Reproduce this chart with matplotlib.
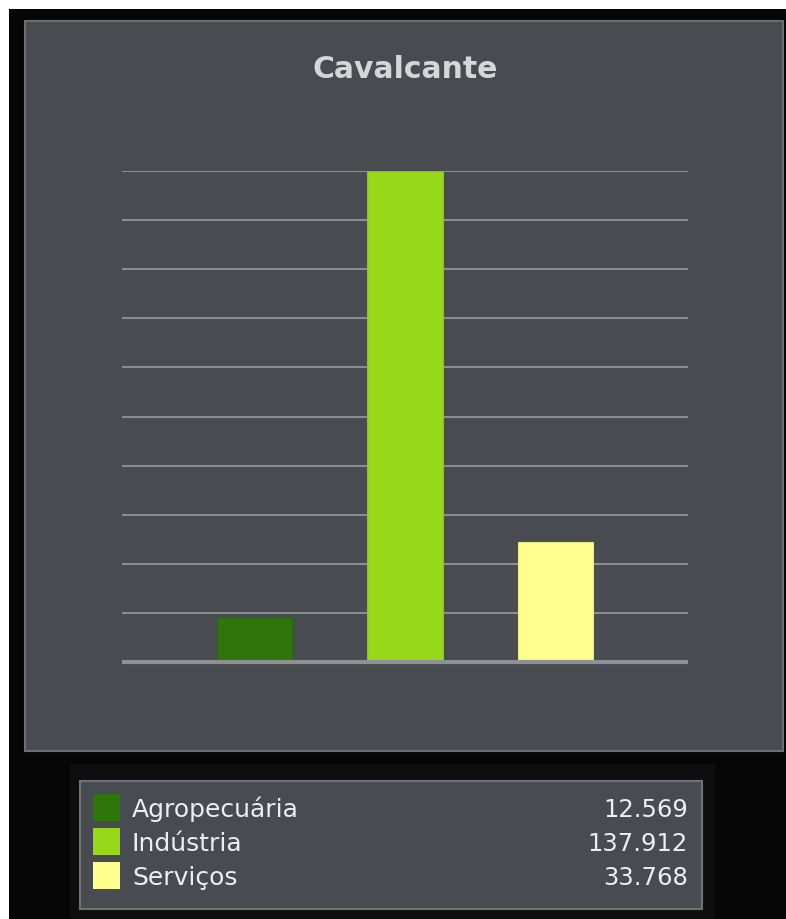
import matplotlib
matplotlib.use("Agg")
import matplotlib.pyplot as plt
import numpy as np
from matplotlib.patches import Rectangle

# Data
title = "Cavalcante"
categories = ["Agropecuária", "Indústria", "Serviços"]
values = [12.569, 137.912, 33.768]
bar_colors = ["#2F760A", "#97D818", "#FFFF8F"]
edge_colors = ["#2A6A09", "#8AC516", "#E8E880"]

W, H = 786, 920
fig = plt.figure(figsize=(W / 100, H / 100), dpi=100, facecolor="white")


def fx(x):
    return x / W


def fy(y):
    return 1 - y / H


def prect(x0, y0, x1, y1, **kw):
    r = Rectangle((fx(x0), fy(y1)), fx(x1) - fx(x0), fy(y0) - fy(y1),
                  transform=fig.transFigure, **kw)
    fig.add_artist(r)
    return r


# Dark backdrop, main panel and legend frame
prect(9, 10, W, H, facecolor="#060606", edgecolor="none", zorder=0)
prect(70, 765, 715, H, facecolor="#0E0E0E", edgecolor="none", zorder=0.5)
prect(25, 22, 783, 752, facecolor="#484B4F", edgecolor="#6C6F72", linewidth=1.5, zorder=1)
prect(80, 782, 702, 910, facecolor="#484B4F", edgecolor="#707376", linewidth=1.5, zorder=1)

fig.text(fx(405), fy(78), title, ha="center", va="baseline", fontsize=21.5,
         fontweight="bold", color="#D4D6D8", family="DejaVu Sans", zorder=5)

# Plot area
ax = fig.add_axes([fx(122), fy(663), fx(688) - fx(122), fy(172) - fy(663)])
ax.set_zorder(3)
ax.patch.set_visible(False)
ymax = max(values)
x = np.arange(len(categories))
ax.set_xlim(-0.883, 2.883)
ax.set_ylim(0, ymax)
for t in np.linspace(0, ymax, 11)[1:]:
    ax.axhline(t, color="#8A8D90", linewidth=1.5, zorder=1, solid_capstyle="butt")
ax.axhline(0, color="#8E9194", linewidth=3, zorder=3, clip_on=False,
           solid_capstyle="butt")
ax.bar(x, values, width=0.5, color=bar_colors, edgecolor=edge_colors,
       linewidth=0.8, zorder=2)
for s in ax.spines.values():
    s.set_visible(False)
ax.set_xticks([])
ax.set_yticks([])

# Legend rows
row_top = [795, 829, 863]
for yt, name, val, col in zip(row_top, categories, values, bar_colors):
    prect(93, yt, 120, yt + 27, facecolor=col, edgecolor="none", zorder=3)
    fig.text(fx(132), fy(yt + 22), name, ha="left", va="baseline", fontsize=18,
             color="#ECEEF0", family="DejaVu Sans", zorder=5)
    fig.text(fx(688), fy(yt + 22), f"{val:.3f}", ha="right", va="baseline",
             fontsize=17.5, color="#ECEEF0", family="DejaVu Sans", zorder=5)

fig.savefig("out.png", dpi=100, facecolor=fig.get_facecolor())
